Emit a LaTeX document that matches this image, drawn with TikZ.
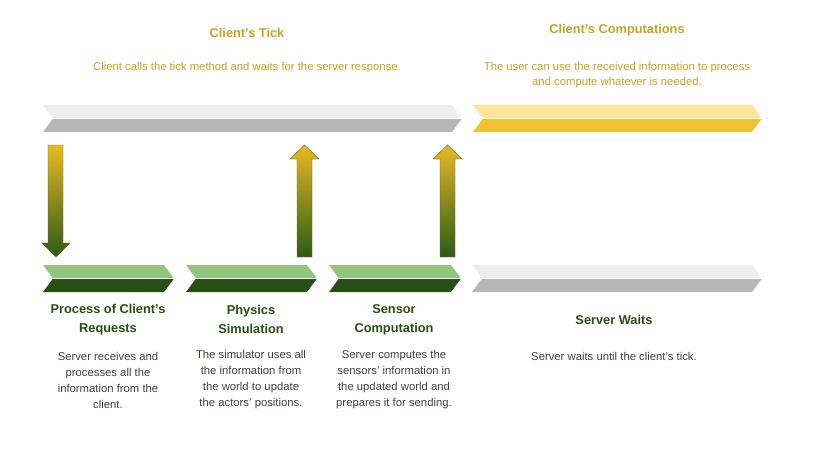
\documentclass[tikz,border=0pt]{standalone}
\usepackage{fontspec}
\setmainfont{Liberation Sans}
\definecolor{greyL}{HTML}{EEEEEE}
\definecolor{greyD}{HTML}{B7B7B7}
\definecolor{yelL}{HTML}{FFE599}
\definecolor{yelD}{HTML}{F1C232}
\definecolor{grnL}{HTML}{93C47D}
\definecolor{grnD}{HTML}{274E13}
\definecolor{gold}{HTML}{C9A227}
\definecolor{arrY}{HTML}{E8B923}
\definecolor{arrG}{HTML}{2D5A14}
\definecolor{bodytxt}{HTML}{3C4636}
\newcommand{\mychev}[5]{%
  \fill[#4] (#1,#3) -- ({#2-10},#3) -- (#2,{#3+13.5}) -- ({#1+10},{#3+13.5}) -- cycle;
  \fill[#5] ({#1+10},{#3+13.5}) -- (#2,{#3+13.5}) -- ({#2-10},{#3+27}) -- (#1,{#3+27}) -- cycle;
  \draw[white,line width=0.8pt] ({#1+10},{#3+13.5}) -- (#2,{#3+13.5});
}
\tikzset{
  ttl/.style={font=\bfseries\fontsize{12.8}{19}\selectfont, align=center, inner sep=0pt},
  bod/.style={font=\fontsize{11.3}{16}\selectfont, align=center, inner sep=0pt},
  garrow/.style={draw=olive!70!black, line width=0.4pt, top color=arrY, bottom color=arrG}
}
\begin{document}
\begin{tikzpicture}[x=1pt,y=-1pt]
\useasboundingbox[fill=white] (0,0) rectangle (832,468);
% chevrons
\mychev{43}{462}{105}{greyL}{greyD}
\mychev{473}{762}{105}{yelL}{yelD}
\mychev{43}{174}{265}{grnL}{grnD}
\mychev{186}{317}{265}{grnL}{grnD}
\mychev{329}{461}{265}{grnL}{grnD}
\mychev{472}{762}{265}{greyL}{greyD}
\coordinate (tickbar) at (252,118.5);
\coordinate (compbar) at (617,118.5);
% arrows
\shade[garrow] (48,145) -- (63,145) -- (63,243) -- (70,243) -- (56,257) -- (42,243) -- (48,243) -- cycle;
\shade[garrow] (297,257) -- (312,257) -- (312,159) -- (319,159) -- (304.5,145) -- (290,159) -- (297,159) -- cycle;
\shade[garrow] (440,257) -- (455,257) -- (455,159) -- (462,159) -- (447.5,145) -- (433,159) -- (440,159) -- cycle;
% top texts
\node[ttl, text=gold] (t1) at (247,33) {Client’s Tick};
\node[bod, text=gold] (b1) at (247,68) {Client calls the tick method and waits for the server response.};
\node[ttl, text=gold] (t2) at (617,30) {Client’s Computations};
\node[bod, text=gold, font=\fontsize{11.3}{15}\selectfont] (b2) at (617,75.5) {The user can use the received information to process\\and compute whatever is needed.};
% bottom texts
\node[ttl, text=grnD] (t3) at (108,319.5) {Process of Client’s\\Requests};
\node[ttl, text=grnD] (t4) at (251,319.5) {Physics\\Simulation};
\node[ttl, text=grnD] (t5) at (394,319.5) {Sensor\\Computation};
\node[ttl, text=grnD] (t6) at (614,320) {Server Waits};
\node[bod, text=bodytxt] (b3) at (108,380) {Server receives and\\processes all the\\information from the\\client.};
\node[bod, text=bodytxt] (b4) at (251,380) {The simulator uses all\\the information from\\the world to update\\the actors’ positions.};
\node[bod, text=bodytxt] (b5) at (394,380) {Server computes the\\sensors’ information in\\the updated world and\\prepares it for sending.};
\node[bod, text=bodytxt] (b6) at (614,356) {Server waits until the client’s tick.};
\end{tikzpicture}
\end{document}
